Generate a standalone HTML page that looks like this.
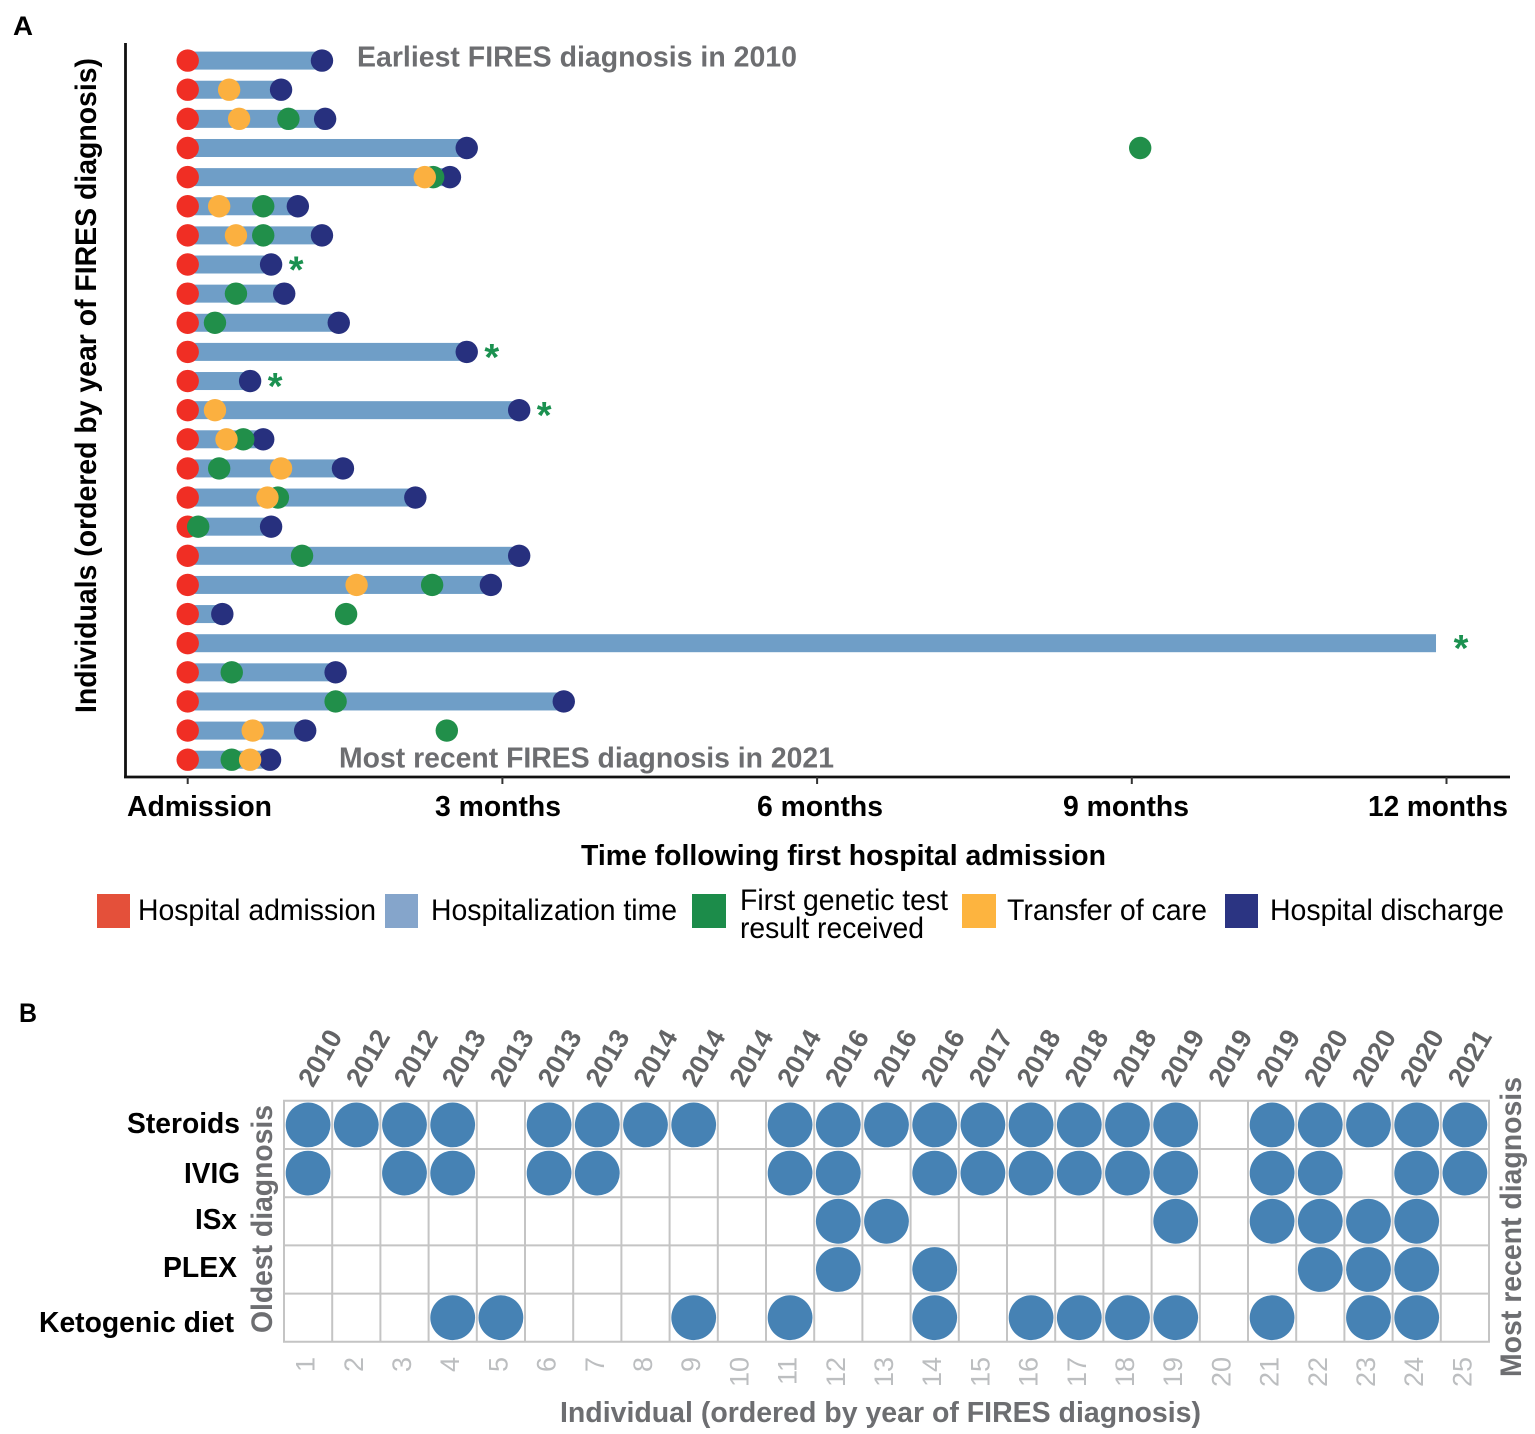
<!DOCTYPE html>
<html lang="en">
<head>
<meta charset="utf-8">
<title>FIRES timeline and treatments</title>
<style>
html,body{margin:0;padding:0;background:#fff;}
svg{display:block;font-family:"Liberation Sans",Arial,sans-serif;}
.b{font-weight:bold;}
.gray{fill:#6d6e71;}
</style>
</head>
<body>
<svg id="fig" width="1535" height="1434" viewBox="0 0 1535 1434" xmlns="http://www.w3.org/2000/svg">
  <rect x="0" y="0" width="1535" height="1434" fill="#ffffff"/>

  <text class="b" x="13" y="35" font-size="27" textLength="20" lengthAdjust="spacingAndGlyphs">A</text>
  <text class="b" x="19" y="1022" font-size="27" textLength="18" lengthAdjust="spacingAndGlyphs">B</text>

  <g id="timeline"></g>

  <line x1="125.5" y1="43" x2="125.5" y2="778" stroke="#111" stroke-width="2.8"/>
  <line x1="124" y1="777" x2="1510" y2="777" stroke="#111" stroke-width="2.8"/>
  <g id="xticks"></g>

  <text class="b" transform="translate(96,713) rotate(-90)" font-size="29.5" textLength="655" lengthAdjust="spacingAndGlyphs">Individuals (ordered by year of FIRES diagnosis)</text>
  <text class="b gray" x="357" y="66.5" font-size="28.5" textLength="440" lengthAdjust="spacingAndGlyphs">Earliest FIRES diagnosis in 2010</text>
  <text class="b gray" x="339" y="767.5" font-size="28.5" textLength="495" lengthAdjust="spacingAndGlyphs">Most recent FIRES diagnosis in 2021</text>

  <text class="b" x="127" y="816" font-size="28.5" textLength="145" lengthAdjust="spacingAndGlyphs">Admission</text>
  <text class="b" x="435" y="816" font-size="28.5" textLength="126" lengthAdjust="spacingAndGlyphs">3 months</text>
  <text class="b" x="757" y="816" font-size="28.5" textLength="126" lengthAdjust="spacingAndGlyphs">6 months</text>
  <text class="b" x="1063" y="816" font-size="28.5" textLength="126" lengthAdjust="spacingAndGlyphs">9 months</text>
  <text class="b" x="1368" y="816" font-size="28.5" textLength="140" lengthAdjust="spacingAndGlyphs">12 months</text>
  <text class="b" x="581" y="865" font-size="28.5" textLength="525" lengthAdjust="spacingAndGlyphs">Time following first hospital admission</text>

  <g font-size="29.5">
    <rect x="97" y="894" width="33" height="34" fill="#e4503a"/>
    <text x="138" y="920" textLength="238" lengthAdjust="spacingAndGlyphs">Hospital admission</text>
    <rect x="385" y="894" width="33" height="34" fill="#85a5cb"/>
    <text x="431" y="920" textLength="246" lengthAdjust="spacingAndGlyphs">Hospitalization time</text>
    <rect x="692" y="894" width="34" height="34" fill="#1c8c4a"/>
    <text x="740" y="910" textLength="208" lengthAdjust="spacingAndGlyphs">First genetic test</text>
    <text x="740" y="938" textLength="184" lengthAdjust="spacingAndGlyphs">result received</text>
    <rect x="962" y="894" width="34" height="34" fill="#fdb43f"/>
    <text x="1007" y="920" textLength="200" lengthAdjust="spacingAndGlyphs">Transfer of care</text>
    <rect x="1225" y="894" width="33" height="34" fill="#2b3482"/>
    <text x="1270" y="920" textLength="234" lengthAdjust="spacingAndGlyphs">Hospital discharge</text>
  </g>

  <g id="matrix"></g>

  <text class="b" x="127" y="1133" font-size="29" textLength="113" lengthAdjust="spacingAndGlyphs">Steroids</text>
  <text class="b" x="184" y="1183" font-size="29" textLength="56" lengthAdjust="spacingAndGlyphs">IVIG</text>
  <text class="b" x="195" y="1229" font-size="29" textLength="42" lengthAdjust="spacingAndGlyphs">ISx</text>
  <text class="b" x="163" y="1277" font-size="29" textLength="74" lengthAdjust="spacingAndGlyphs">PLEX</text>
  <text class="b" x="39" y="1332" font-size="29" textLength="195" lengthAdjust="spacingAndGlyphs">Ketogenic diet</text>

  <text class="b gray" transform="translate(272,1333) rotate(-90)" font-size="29.5" textLength="228" lengthAdjust="spacingAndGlyphs">Oldest diagnosis</text>
  <text class="b gray" transform="translate(1521,1377) rotate(-90)" font-size="29.5" textLength="300" lengthAdjust="spacingAndGlyphs">Most recent diagnosis</text>
  <text class="b gray" x="560" y="1422" font-size="28.5" textLength="641" lengthAdjust="spacingAndGlyphs">Individual (ordered by year of FIRES diagnosis)</text>
</svg>

<script>
// ---- Panel A data (months after first admission; null = no marker) ----
var discharge = [1.28,0.89,1.31,2.66,2.50,1.05,1.28,0.795,0.92,1.44,2.66,0.595,3.16,0.72,1.48,2.17,0.795,3.16,2.89,0.33,null,1.41,3.585,1.12,0.785];
var genetic   = [null,null,0.96,9.08,2.34,0.72,0.72,null,0.46,0.26,null,null,null,0.53,0.30,0.86,0.10,1.09,2.33,1.51,null,0.42,1.41,2.47,0.42];
var transfer  = [null,0.395,0.49,null,2.26,0.30,0.46,null,null,null,null,null,0.26,0.37,0.89,0.76,null,null,1.61,null,null,null,null,0.62,0.595];
var ongoingStayEnd = 11.9;
var starredRows = [7,10,11,12,20];
var xTickMonths = [0,3,6,9,12];

// ---- Panel B data ----
var years = [2010,2012,2012,2013,2013,2013,2013,2014,2014,2014,2014,2016,2016,2016,2017,2018,2018,2018,2019,2019,2019,2020,2020,2020,2021];
var steroids = [1,2,3,4,6,7,8,9,11,12,13,14,15,16,17,18,19,21,22,23,24,25];
var ivig = [1,3,4,6,7,11,12,14,15,16,17,18,19,21,22,24,25];
var isx = [12,13,19,21,22,23,24];
var plex = [12,14,22,23,24];
var ketogenicDiet = [4,5,9,11,14,16,17,18,19,21,23,24];

var NS = 'http://www.w3.org/2000/svg';
function mk(tag, parent) {
  var el = document.createElementNS(NS, tag);
  parent.appendChild(el);
  return el;
}

// Axis functions
function xMonth(m) { return 187.7 + m * 104.9; }
function yRow(i) { return 60.6 + i * 29.13; }
function colCenter(n) { return 284 + (n - 0.5) * 48.2; }
function rowCenter(r) { return 1100.8 + (r + 0.5) * 48.2; }
function yearStart(n) { return 313 + (n - 1) * 47.9; }

var timeline = document.getElementById('timeline');
var xticks = document.getElementById('xticks');
var matrix = document.getElementById('matrix');

xTickMonths.forEach(function (m) {
  var t = mk('line', xticks);
  
  
  t.setAttribute('x1', xMonth(m));
  t.setAttribute('x2', xMonth(m));
  t.setAttribute('y1', 777);
  t.setAttribute('y2', 784);
  t.setAttribute('stroke', '#333');
  t.setAttribute('stroke-width', 2);
});

function dot(m, i, color, name) {
  var c = mk('circle', timeline);
  
  
  c.setAttribute('cx', xMonth(m));
  c.setAttribute('cy', yRow(i));
  c.setAttribute('r', 11.2);
  c.setAttribute('fill', color);
}

discharge.forEach(function (d, i) {
  var end = d === null ? ongoingStayEnd : d;
  var bar = mk('rect', timeline);
  
  
  bar.setAttribute('x', xMonth(0));
  bar.setAttribute('y', yRow(i) - 9);
  bar.setAttribute('width', xMonth(end) - xMonth(0));
  bar.setAttribute('height', 18);
  bar.setAttribute('fill', '#6f9ec7');
});
discharge.forEach(function (d, i) {
  dot(0, i, '#f02e24', 'admission-point');
  if (d !== null) dot(d, i, '#27307e', 'discharge-point');
  if (genetic[i] !== null) dot(genetic[i], i, '#218f4a', 'genetic-test-point');
  if (transfer[i] !== null) dot(transfer[i], i, '#fbb040', 'transfer-point');
});
starredRows.forEach(function (i) {
  var end = discharge[i] === null ? ongoingStayEnd : discharge[i];
  var s = mk('text', timeline);
  
  
  s.setAttribute('x', xMonth(end) + 25);
  s.setAttribute('y', yRow(i) + 18);
  s.setAttribute('text-anchor', 'middle');
  s.setAttribute('font-size', 38);
  s.setAttribute('font-weight', 'bold');
  s.setAttribute('fill', '#1b9150');
  s.textContent = '*';
});

// Panel B grid
var cols = years.length, treatments = [steroids, ivig, isx, plex, ketogenicDiet];
for (var c = 0; c <= cols; c++) {
  var vl = mk('line', matrix);
  
  
  vl.setAttribute('x1', 284 + c * 48.2);
  vl.setAttribute('x2', 284 + c * 48.2);
  vl.setAttribute('y1', 1100);
  vl.setAttribute('y2', 1342);
  vl.setAttribute('stroke', '#c4c4c4');
  vl.setAttribute('stroke-width', 2);
}
for (var r = 0; r <= treatments.length; r++) {
  var hl = mk('line', matrix);
  
  
  hl.setAttribute('x1', 283);
  hl.setAttribute('x2', 1490);
  hl.setAttribute('y1', 1100.8 + r * 48.2);
  hl.setAttribute('y2', 1100.8 + r * 48.2);
  hl.setAttribute('stroke', '#c4c4c4');
  hl.setAttribute('stroke-width', 2);
}
treatments.forEach(function (list, r) {
  list.forEach(function (n) {
    var m = mk('circle', matrix);
    
    
    m.setAttribute('cx', colCenter(n));
    m.setAttribute('cy', rowCenter(r));
    m.setAttribute('r', 22.4);
    m.setAttribute('fill', '#4682b4');
  });
});
years.forEach(function (yr, idx) {
  var n = idx + 1;
  var y = mk('text', matrix);
  
  
  y.setAttribute('transform', 'translate(' + yearStart(n) + ',1088.5) rotate(-60)');
  y.setAttribute('font-size', 27);
  y.setAttribute('font-weight', 'bold');
  y.setAttribute('fill', '#636466');
  y.textContent = yr;
  var t = mk('text', matrix);
  
  
  t.setAttribute('transform', 'translate(' + (colCenter(n) + 6.5) + ',1357) rotate(-90)');
  t.setAttribute('text-anchor', 'end');
  t.setAttribute('font-size', 27);
  t.setAttribute('fill', '#bcbec0');
  t.textContent = n;
});
</script>
</body>
</html>
